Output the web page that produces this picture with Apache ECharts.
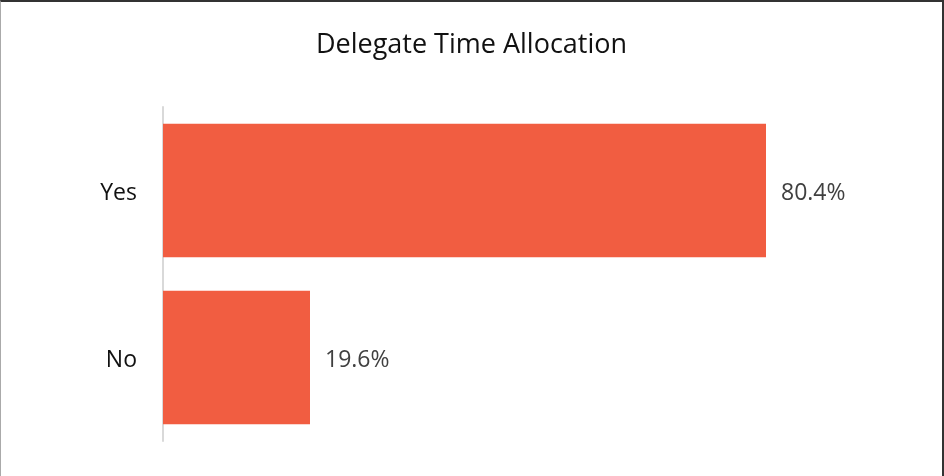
<!DOCTYPE html>
<html><head><meta charset="utf-8">
<script src="https://cdn.jsdelivr.net/npm/echarts@6/dist/echarts.min.js"></script>
<style>
html,body{margin:0;padding:0;background:#fff;}
#c{position:absolute;left:0;top:0;width:944px;height:476px;box-sizing:border-box;border-top:2px solid #333;border-left:1px solid #aaa;border-right:2px solid #333;}
</style></head><body>
<div id="c"></div>
<script>
const titleText = 'Delegate Time Allocation';
const categories = ['No', 'Yes'];
const values = [19.6, 80.4];

const chart = echarts.init(document.getElementById('c'));
chart.setOption({
  animation: false,
  title: {text: titleText, left: 'center', top: 25,
    textStyle: {fontFamily: 'Open Sans', fontSize: 27, fontWeight: 'normal', color: '#111'}},
  grid: {left: 162, top: 105, width: 750, height: 334, containLabel: false},
  xAxis: {type: 'value', min: 0, max: 100, show: false},
  yAxis: {type: 'category', data: categories,
    axisLine: {show: true, lineStyle: {color: '#d9d9d9', width: 2}},
    axisTick: {show: false},
    axisLabel: {margin: 26, formatter: '{a|{value}}',
      rich: {a: {fontFamily: 'Open Sans', fontSize: 23, color: '#111', padding: [6, 0, 0, 0]}}}},
  series: [{type: 'bar', data: values, barCategoryGap: '20%',
    itemStyle: {color: '#F15D41'},
    label: {show: true, position: 'right', distance: 15, offset: [0, 3], formatter: p => p.value.toFixed(1) + '%',
      fontFamily: 'Open Sans', fontSize: 23, color: '#404040'}}]
});
</script></body></html>
